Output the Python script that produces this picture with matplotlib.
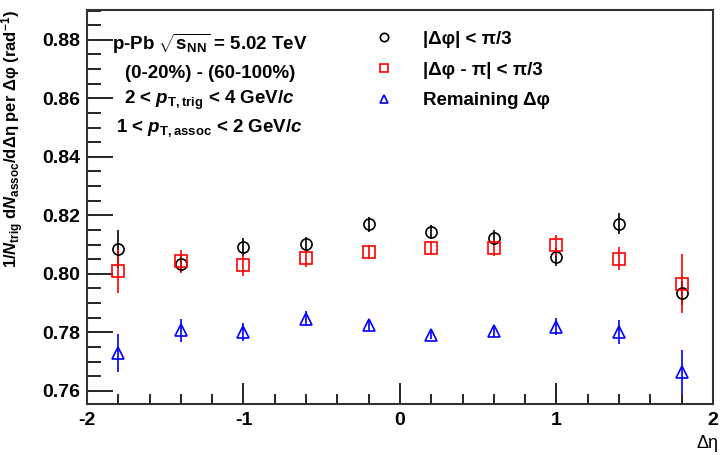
import numpy as np
import matplotlib
matplotlib.use("Agg")
import matplotlib.pyplot as plt
from matplotlib.ticker import MultipleLocator, FuncFormatter
from matplotlib.lines import Line2D

# data
deta = [-1.8, -1.4, -1.0, -0.6, -0.2, 0.2, 0.6, 1.0, 1.4, 1.8]

near = [0.8084, 0.8035, 0.8092, 0.8101, 0.8169, 0.8143, 0.8124, 0.8058, 0.8172, 0.7934]
near_err = [0.0065, 0.0030, 0.0030, 0.0025, 0.0027, 0.0025, 0.0026, 0.0030, 0.0037, 0.0040]

away = [0.8009, 0.8043, 0.8029, 0.8054, 0.8075, 0.8088, 0.8088, 0.8097, 0.8052, 0.7967]
away_err = [0.0075, 0.0040, 0.0035, 0.0030, 0.0025, 0.0025, 0.0027, 0.0035, 0.0040, 0.0100]

rest = [0.7729, 0.7807, 0.7801, 0.7847, 0.7824, 0.7792, 0.7803, 0.7820, 0.7801, 0.7664]
rest_err = [0.0066, 0.0040, 0.0030, 0.0025, 0.0020, 0.0015, 0.0020, 0.0028, 0.0040, 0.0076]

labels = ['|Δφ| < π/3', '|Δφ - π| < π/3', 'Remaining Δφ']

plt.rcParams['font.family'] = ['Liberation Sans', 'DejaVu Sans']
plt.rcParams['font.weight'] = 'bold'
plt.rcParams['mathtext.fontset'] = 'custom'
plt.rcParams['mathtext.rm'] = 'Liberation Sans:bold'
plt.rcParams['mathtext.it'] = 'Liberation Sans:italic:bold'
plt.rcParams['mathtext.bf'] = 'Liberation Sans:bold'
plt.rcParams['mathtext.sf'] = 'Liberation Sans:bold'

fig = plt.figure(figsize=(7.22, 4.55), dpi=100)
ax = fig.add_axes([0.1205, 0.112, 0.867, 0.866])

ax.errorbar(deta, near, yerr=near_err, fmt='o', color='black', mfc='none', mec='black',
            ms=8, mew=1.2, elinewidth=1.2, capsize=0)
ax.errorbar(deta, away, yerr=away_err, fmt='s', color='red', mfc='none', mec='red',
            ms=8.5, mew=1.2, elinewidth=1.2, capsize=0)
ax.errorbar(deta, rest, yerr=rest_err, fmt='^', color='blue', mfc='none', mec='blue',
            ms=8.5, mew=1.2, elinewidth=1.2, capsize=0)

ax.set_xlim(-2, 2)
ax.set_ylim(0.7555, 0.8902)
ax.xaxis.set_major_locator(MultipleLocator(1))
ax.xaxis.set_minor_locator(MultipleLocator(0.2))
ax.yaxis.set_major_locator(MultipleLocator(0.02))
ax.yaxis.set_minor_locator(MultipleLocator(0.005))
ax.yaxis.set_major_formatter(FuncFormatter(lambda v, p: f"{v:.2f}"))
ax.xaxis.set_major_formatter(FuncFormatter(lambda v, p: f"{v:.0f}"))

ax.tick_params(which='both', direction='in', top=False, right=False, labelsize=14, width=1.2)
ax.tick_params(axis='y', which='major', length=19, pad=5)
ax.tick_params(axis='y', which='minor', length=10)
ax.tick_params(axis='x', which='major', length=15, pad=6)
ax.tick_params(axis='x', which='minor', length=7)
for s in ax.spines.values():
    s.set_linewidth(1.5)
    s.set_color('#333333')

fig.text(0.995, 0.006, 'Δη', ha='right', va='bottom', fontsize=13, fontweight='normal')
ax.set_ylabel(r'1/$N_{\rm trig}$ d$N_{\rm assoc}$/dΔη per Δφ (rad$^{-1}$)',
              loc='top', fontsize=12, fontweight='bold')
ax.yaxis.set_label_coords(-0.097, 1.0)

txt = [r'p-Pb $\sqrt{{\rm s}_{\rm NN}}$ = 5.02 TeV',
       '(0-20%) - (60-100%)',
       r'2 < $p_{\rm T,trig}$ < 4 GeV/$c$',
       r'1 < $p_{\rm T,assoc}$ < 2 GeV/$c$']
ys = [0.915, 0.840, 0.770, 0.700]
for t, y in zip(txt, ys):
    ax.text(0.196, y, t, transform=ax.transAxes, ha='center', va='center', fontsize=13.5)

handles = [Line2D([], [], ls='none', marker='o', mfc='none', mec='black', ms=6, mew=1.2),
           Line2D([], [], ls='none', marker='s', mfc='none', mec='red', ms=6, mew=1.2),
           Line2D([], [], ls='none', marker='^', mfc='none', mec='blue', ms=6, mew=1.2)]
ax.legend(handles, labels, loc='upper left', bbox_to_anchor=(0.429, 0.99), frameon=False,
          fontsize=13.5, handlelength=1.2, handletextpad=1.5, labelspacing=0.72)

fig.savefig('out.png', dpi=100)
